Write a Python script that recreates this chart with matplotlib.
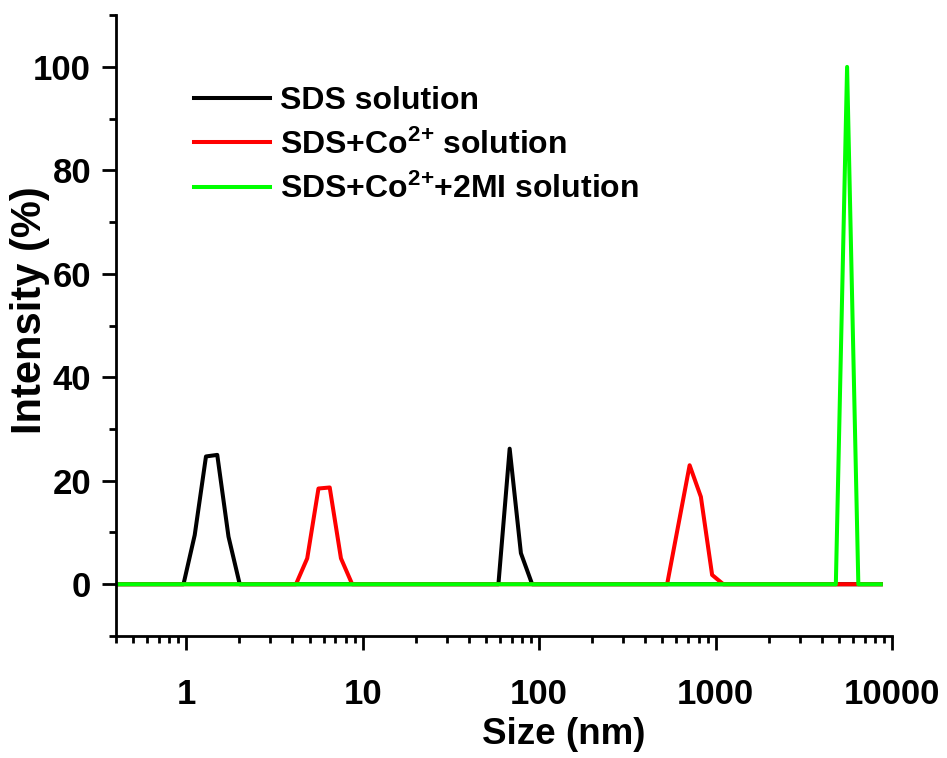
import matplotlib
matplotlib.use('Agg')
import matplotlib.pyplot as plt
from matplotlib.ticker import LogLocator, FuncFormatter, NullFormatter, MultipleLocator

plt.rcParams['font.family'] = ['Liberation Sans', 'DejaVu Sans']
plt.rcParams['font.weight'] = 'bold'
plt.rcParams['axes.labelweight'] = 'bold'
plt.rcParams['mathtext.fontset'] = 'custom'
plt.rcParams['mathtext.rm'] = 'Liberation Sans:bold'
plt.rcParams['mathtext.it'] = 'Liberation Sans:bold'
plt.rcParams['mathtext.bf'] = 'Liberation Sans:bold'
plt.rcParams['mathtext.default'] = 'rm'

# DLS size bins (nm) and intensity (%)
sds_size = [0.4, 0.9649, 1.117, 1.294, 1.499, 1.736, 2.01,
            58.77, 68.06, 78.82, 91.28, 8635]
sds_int = [0, 0, 9.5, 24.7, 25.0, 9.2, 0,
           0, 26.2, 6.0, 0, 0]

co_size = [0.4, 4.187, 4.849, 5.615, 6.503, 7.531, 8.721,
           531.2, 712.4, 825.0, 955.4, 1106, 8635]
co_int = [0, 0, 5.0, 18.5, 18.7, 5.0, 0,
          0, 23.0, 16.9, 1.8, 0, 0]

mi_size = [0.4, 4801, 5560, 6439, 8635]
mi_int = [0, 0, 100, 0, 0]

labels = ['SDS solution', r'SDS+Co$^{2\!+}\!$ solution', r'SDS+Co$^{2\!+}\!$+2MI solution']

fig = plt.figure(figsize=(9.47, 7.58), dpi=100)
ax = fig.add_axes([0.1225, 0.161, 0.8195, 0.819])

ax.plot(sds_size, sds_int, color='black', lw=2.9, label=labels[0])
ax.plot(co_size, co_int, color='#ff0000', lw=2.9, label=labels[1])
ax.plot(mi_size, mi_int, color='#00ff00', lw=2.9, label=labels[2])

ax.set_xscale('log')
ax.set_xlim(0.4, 10000)
ax.set_ylim(-10, 110)

ax.xaxis.set_major_locator(LogLocator(base=10, numticks=10))
ax.xaxis.set_minor_locator(LogLocator(base=10, subs=range(2, 10), numticks=20))
ax.xaxis.set_major_formatter(FuncFormatter(lambda v, p: f'{v:g}'))
ax.xaxis.set_minor_formatter(NullFormatter())
ax.yaxis.set_major_locator(MultipleLocator(20))
ax.yaxis.set_minor_locator(MultipleLocator(10))

for s in ['top', 'right']:
    ax.spines[s].set_visible(False)
for s in ['left', 'bottom']:
    ax.spines[s].set_linewidth(2)

ax.tick_params(axis='both', which='major', direction='out', length=10, width=2, labelsize=25)
ax.tick_params(axis='both', which='minor', direction='out', length=5, width=2)
ax.tick_params(axis='x', which='major', pad=20)
ax.tick_params(axis='y', which='major', pad=8)

ax.set_xlabel('Size (nm)', fontsize=26.5)
ax.set_ylabel('Intensity (%)', fontsize=30)
ax.xaxis.set_label_coords(0.577, -0.13)
ax.yaxis.set_label_coords(-0.085, 0.525)

ax.legend(loc='upper left', bbox_to_anchor=(0.1, 0.886), frameon=False, fontsize=23,
          handlelength=2.4, handletextpad=0.3, labelspacing=0.42, borderpad=0, borderaxespad=0)

fig.savefig('out.png', dpi=100)
